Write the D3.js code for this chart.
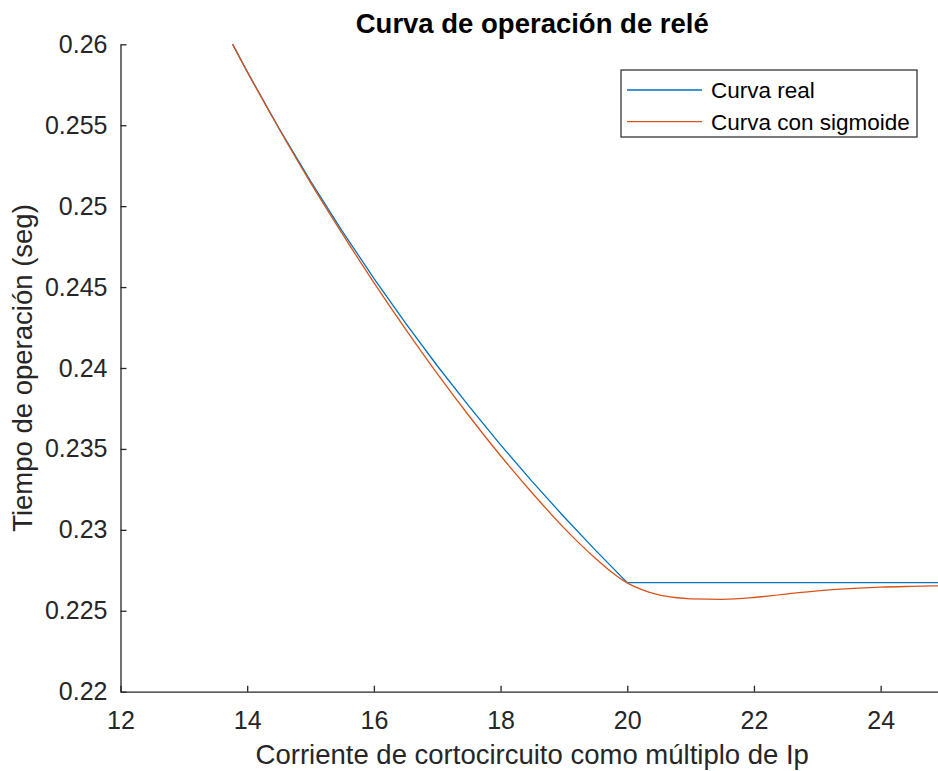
<!DOCTYPE html>
<html>
<head>
<meta charset="utf-8">
<script src="https://cdn.jsdelivr.net/npm/d3@7"></script>
<style>
  body { margin: 0; background: #fff; }
  svg { display: block; font-family: Arial, "Liberation Sans", Helvetica, sans-serif; }
  .axis path, .axis line { stroke: #262626; stroke-width: 1.3; }
  .axis text { fill: #262626; font-size: 25px; }
</style>
</head>
<body>
<script>
// curve values
var xReal = [13.5, 14, 14.5, 15, 15.5, 16, 16.5, 17, 17.5, 18, 18.5, 19, 19.5, 20, 25];
var yReal = [0.26201, 0.25831, 0.25483, 0.25155, 0.24846, 0.24554, 0.24277, 0.24014, 0.23764, 0.23525, 0.23298, 0.23081, 0.22873, 0.22674, 0.22674];

var xSig = [13.5, 14, 14.5, 15, 15.5, 16, 16.5, 17, 17.5, 18, 18.5, 19, 19.5, 19.75, 20, 20.25, 20.5, 20.75, 21, 21.5, 22, 22.5, 23, 23.5, 24, 24.5, 25];
var ySig = [0.26201, 0.25831, 0.25480, 0.25145, 0.24830, 0.24528, 0.24240, 0.23965, 0.23705, 0.23458, 0.23228, 0.23012, 0.22823, 0.22740, 0.22672, 0.22628, 0.22598, 0.22582, 0.22574, 0.22571, 0.22582, 0.22603, 0.22623, 0.22637, 0.22646, 0.22651, 0.22655];

var xTicks = [12, 14, 16, 18, 20, 22, 24];
var yTicks = [0.22, 0.225, 0.23, 0.235, 0.24, 0.245, 0.25, 0.255, 0.26];
var seriesNames = ['Curva real', 'Curva con sigmoide'];
var seriesColors = ['#0072BD', '#D95319'];

var width = 938, height = 771;
var margin = {left: 120.5, top: 44.3, right: -6, bottom: 79.3}; // right edge of axes falls past the image edge
var w = width - margin.left - margin.right;
var h = height - margin.top - margin.bottom;

var x = d3.scaleLinear().domain([12, 25]).range([0, w]);
var y = d3.scaleLinear().domain([0.22, 0.26]).range([h, 0]);

var svg = d3.select('body').append('svg').attr('width', width).attr('height', height);

svg.append('defs').append('clipPath').attr('id', 'clip')
  .append('rect').attr('width', w).attr('height', h);

var g = svg.append('g').attr('transform', 'translate(' + margin.left + ',' + margin.top + ')');

var xAxis = d3.axisBottom(x).tickValues(xTicks).tickSizeInner(-6).tickSizeOuter(0).tickPadding(20)
  .tickFormat(d3.format('d'));
var yAxis = d3.axisLeft(y).tickValues(yTicks).tickSizeInner(-6).tickSizeOuter(0).tickPadding(13)
  .tickFormat(function(d){ return String(+d.toFixed(3)); });

g.append('g').attr('class', 'axis x').attr('transform', 'translate(0,' + h + ')').call(xAxis);
g.append('g').attr('class', 'axis y').call(yAxis);

var lineReal = d3.line()
  .x(function(d, i){ return x(xReal[i]); })
  .y(function(d){ return y(d); });
var lineSig = d3.line()
  .x(function(d, i){ return x(xSig[i]); })
  .y(function(d){ return y(d); })
  .curve(d3.curveMonotoneX);

var plot = g.append('g').attr('clip-path', 'url(#clip)');
plot.append('path').attr('d', lineReal(yReal))
  .attr('fill', 'none').attr('stroke', seriesColors[0]).attr('stroke-width', 1.3);
plot.append('path').attr('d', lineSig(ySig))
  .attr('fill', 'none').attr('stroke', seriesColors[1]).attr('stroke-width', 1.3);

// title and labels
svg.append('text').attr('x', margin.left + w / 2).attr('y', 33)
  .attr('text-anchor', 'middle').attr('font-size', '27.5px').attr('font-weight', 'bold')
  .attr('fill', '#000').text('Curva de operación de relé');

svg.append('text').attr('x', margin.left + w / 2).attr('y', 764)
  .attr('text-anchor', 'middle').attr('font-size', '27.5px').attr('fill', '#262626')
  .text('Corriente de cortocircuito como múltiplo de Ip');

svg.append('text')
  .attr('transform', 'translate(32,' + (margin.top + h / 2) + ') rotate(-90)')
  .attr('text-anchor', 'middle').attr('font-size', '27.5px').attr('fill', '#262626')
  .text('Tiempo de operación (seg)');

// legend
var legend = svg.append('g').attr('transform', 'translate(621,70)');
legend.append('rect').attr('width', 296).attr('height', 67)
  .attr('fill', '#fff').attr('stroke', '#262626').attr('stroke-width', 1.2);
seriesNames.forEach(function(name, i){
  var ly = 20 + i * 31.7;
  legend.append('line').attr('x1', 6).attr('x2', 81).attr('y1', ly).attr('y2', ly)
    .attr('stroke', seriesColors[i]).attr('stroke-width', 1.3);
  legend.append('text').attr('x', 90).attr('y', ly).attr('dy', '0.35em')
    .attr('font-size', '22.5px').attr('fill', '#000').text(name);
});
</script>
</body>
</html>
